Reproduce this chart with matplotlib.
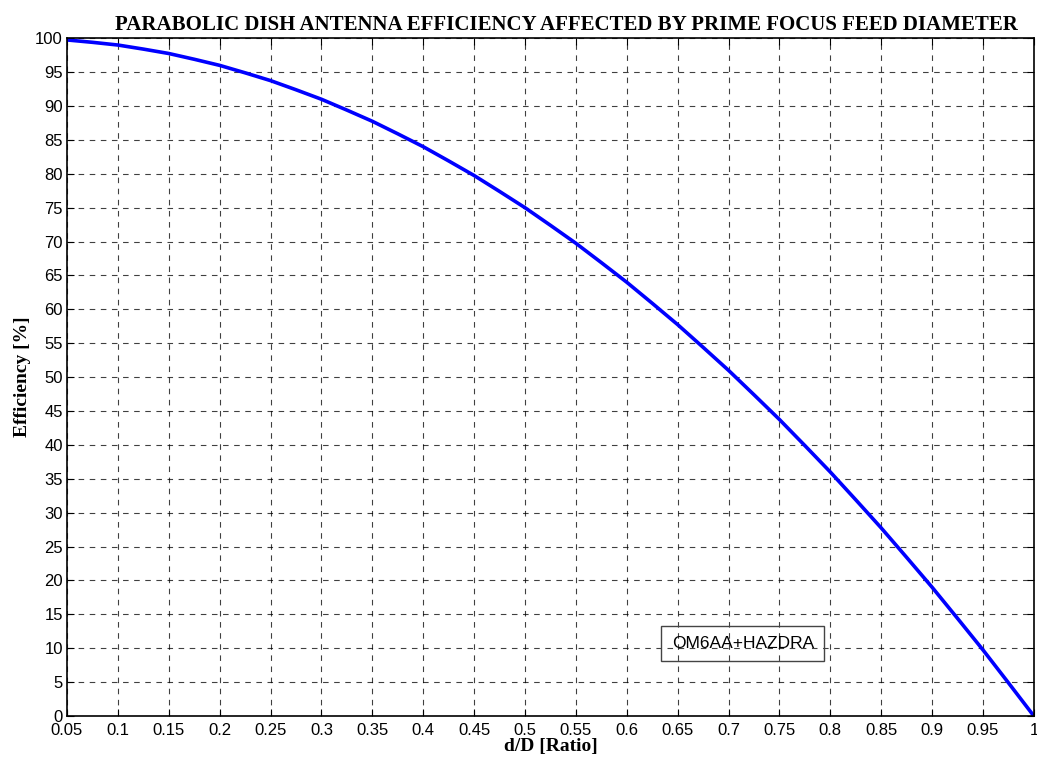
import matplotlib
matplotlib.use('Agg')
import matplotlib.pyplot as plt

# d/D ratio and efficiency
ratio = [0.05, 0.075, 0.10, 0.125, 0.15, 0.175, 0.20, 0.225, 0.25, 0.275,
         0.30, 0.325, 0.35, 0.375, 0.40, 0.425, 0.45, 0.475, 0.50, 0.525,
         0.55, 0.575, 0.60, 0.625, 0.65, 0.675, 0.70, 0.725, 0.75, 0.775,
         0.80, 0.825, 0.85, 0.875, 0.90, 0.925, 0.95, 0.975, 1.00]
efficiency = [99.75, 99.4, 99.0, 98.4, 97.75, 96.9, 96.0, 94.9, 93.75, 92.4,
              91.0, 89.4, 87.75, 85.9, 84.0, 81.9, 79.75, 77.4, 75.0, 72.4,
              69.75, 66.9, 64.0, 60.9, 57.75, 54.4, 51.0, 47.4, 43.75, 39.9,
              36.0, 31.9, 27.75, 23.4, 19.0, 14.4, 9.75, 4.9, 0.0]

x_ticks = [0.05, 0.1, 0.15, 0.2, 0.25, 0.3, 0.35, 0.4, 0.45, 0.5,
           0.55, 0.6, 0.65, 0.7, 0.75, 0.8, 0.85, 0.9, 0.95, 1]
y_ticks = list(range(0, 101, 5))

fig = plt.figure(figsize=(10.37, 7.65), dpi=100)
ax = fig.add_axes([0.0646, 0.064, 0.9324, 0.886])

ax.plot(ratio, efficiency, color='#0000ff', linewidth=2.6)

ax.set_xlim(0.05, 1)
ax.set_ylim(0, 100)
ax.set_xticks(x_ticks)
ax.set_xticklabels(['%g' % t for t in x_ticks])
ax.set_yticks(y_ticks)

ax.grid(True, color='black', linestyle=(0, (5, 5)), linewidth=0.8, alpha=0.75)
ax.tick_params(direction='in', top=True, right=True, length=5, labelsize=12)
ax.tick_params(axis='x', pad=5)
ax.tick_params(axis='y', pad=3)
for lab in ax.get_xticklabels() + ax.get_yticklabels():
    lab.set_fontfamily('Liberation Sans')
for sp in ax.spines.values():
    sp.set_linewidth(1.2)

serif = 'Liberation Serif'
ax.set_title('PARABOLIC DISH ANTENNA EFFICIENCY AFFECTED BY PRIME FOCUS FEED DIAMETER',
             fontfamily=serif, fontweight='bold', fontsize=15, pad=6, x=0.517)
ax.set_xlabel('d/D [Ratio]', fontfamily=serif, fontweight='bold', fontsize=14, labelpad=0)
ax.set_ylabel('Efficiency [%]', fontfamily=serif, fontweight='bold', fontsize=14, labelpad=3)

ax.text(0.714, 10.7, 'OM6AA+HAZDRA', ha='center', va='center', fontsize=12.5,
        fontfamily='Liberation Sans',
        bbox=dict(boxstyle='square,pad=0.6', facecolor='none', edgecolor='#444444', linewidth=1))

fig.savefig('out.png', dpi=100)
